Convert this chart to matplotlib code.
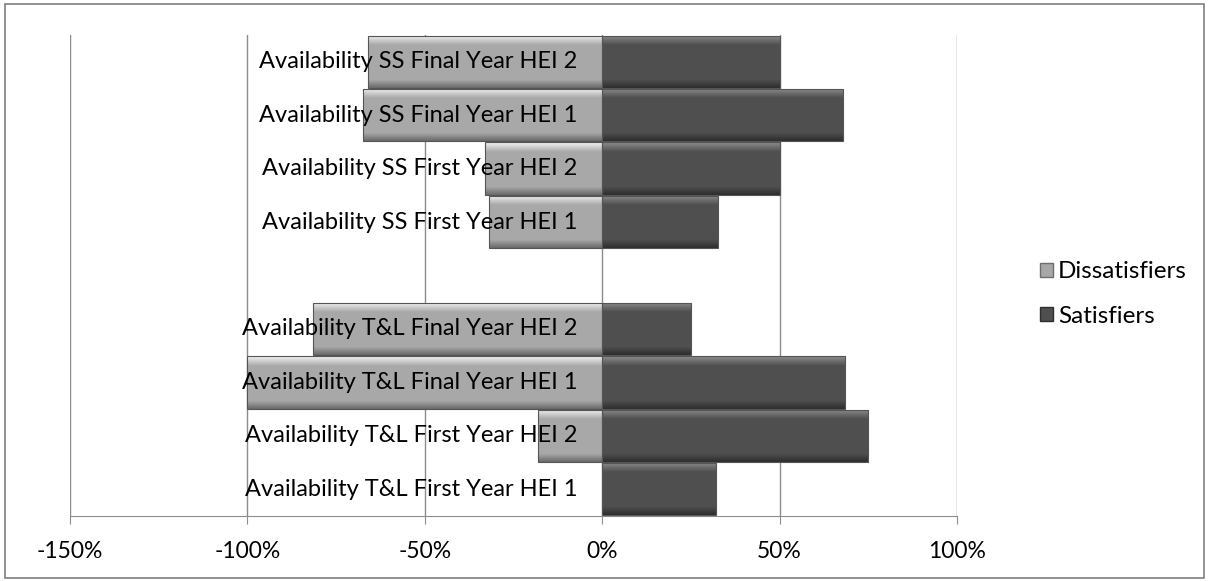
import matplotlib
matplotlib.use("Agg")
import numpy as np
import matplotlib.pyplot as plt
from matplotlib.patches import Rectangle, Patch
from matplotlib.ticker import FuncFormatter

categories = [
    "Availability T&L First Year HEI 1",
    "Availability T&L First Year HEI 2",
    "Availability T&L Final Year HEI 1",
    "Availability T&L Final Year HEI 2",
    "",
    "Availability SS First Year HEI 1",
    "Availability SS First Year HEI 2",
    "Availability SS Final Year HEI 1",
    "Availability SS Final Year HEI 2",
]
dissatisfiers = [0, -18, -100, -81.5, None, -32, -33, -67.5, -66]
satisfiers = [32, 75, 68.5, 25, None, 32.5, 50, 68, 50]
xticks = [-150, -100, -50, 0, 50, 100]

plt.rcParams['font.family'] = ['Lato', 'DejaVu Sans']
W, H = 1211, 581
fig = plt.figure(figsize=(W/100, H/100), dpi=100)
fig.patches.append(Rectangle((5/W, 3/H), 1199/W, 574/H, transform=fig.transFigure,
                             fill=False, edgecolor='#7f7f7f', linewidth=1.2))
ax = fig.add_axes([70/W, 1-516/H, (957-70)/W, (516-35)/H])


def gradient_bar(ax, bars, top, mid, bottom):
    g = np.linspace(0, 1, 64)
    cols = []
    for t in g:
        if t < 0.18:
            a = t / 0.18
            c = np.array(top) * (1 - a) + np.array(mid) * a
        elif t > 0.85:
            a = (t - 0.85) / 0.15
            c = np.array(mid) * (1 - a) + np.array(bottom) * a
        else:
            c = np.array(mid)
        cols.append(c)
    img = np.array(cols).reshape(64, 1, 3)
    for b in bars:
        x0, y0, w, h = b.get_x(), b.get_y(), b.get_width(), b.get_height()
        if w == 0:
            continue
        im = ax.imshow(img, extent=(min(x0, x0 + w), max(x0, x0 + w), y0, y0 + h),
                       origin='upper', aspect='auto', zorder=3, interpolation='bilinear')
        im.set_clip_path(b)


ys = np.arange(len(categories))
dvals = [0 if v is None else v for v in dissatisfiers]
svals = [0 if v is None else v for v in satisfiers]
bd = ax.barh(ys, dvals, height=0.98, color='#a8a8a8', edgecolor='none', zorder=2)
bs = ax.barh(ys, svals, height=0.98, color='#4f4f4f', edgecolor='none', zorder=2)
gradient_bar(ax, bd, (0.95, 0.95, 0.95), (0.66, 0.66, 0.66), (0.42, 0.42, 0.42))
gradient_bar(ax, bs, (0.55, 0.55, 0.55), (0.31, 0.31, 0.31), (0.18, 0.18, 0.18))
for b in list(bd) + list(bs):
    if b.get_width() != 0:
        ax.add_patch(Rectangle((b.get_x(), b.get_y()), b.get_width(), b.get_height(),
                               fill=False, edgecolor='#555555', linewidth=0.8, zorder=4))

ax.set_xlim(-150, 100)
ax.set_ylim(-0.5, len(categories) - 0.5)
ax.set_xticks(xticks)
ax.xaxis.set_major_formatter(FuncFormatter(lambda v, p: f"{int(v)}%"))
ax.grid(axis='x', color='#8c8c8c', linewidth=1, zorder=0)
ax.set_yticks([])
for sp in ['top', 'right', 'left']:
    ax.spines[sp].set_visible(False)
ax.spines['bottom'].set_color('#8c8c8c')
ax.tick_params(axis='x', length=6, color='#8c8c8c', labelsize=16.5, pad=12)

for y, c in zip(ys, categories):
    if c:
        ax.text(-7, y, c, ha='right', va='center', fontsize=17, color='black', zorder=5)

handles = [Patch(facecolor='#a8a8a8', edgecolor='#6e6e6e', label='Dissatisfiers'),
           Patch(facecolor='#4f4f4f', edgecolor='#2e2e2e', label='Satisfiers')]
fig.legend(handles=handles, loc='center left', bbox_to_anchor=(1018/W, 1-294/H),
           frameon=False, fontsize=17.5, handlelength=0.55, handleheight=0.55,
           handletextpad=0.2, labelspacing=0.95)

fig.savefig("out.png", dpi=100)
